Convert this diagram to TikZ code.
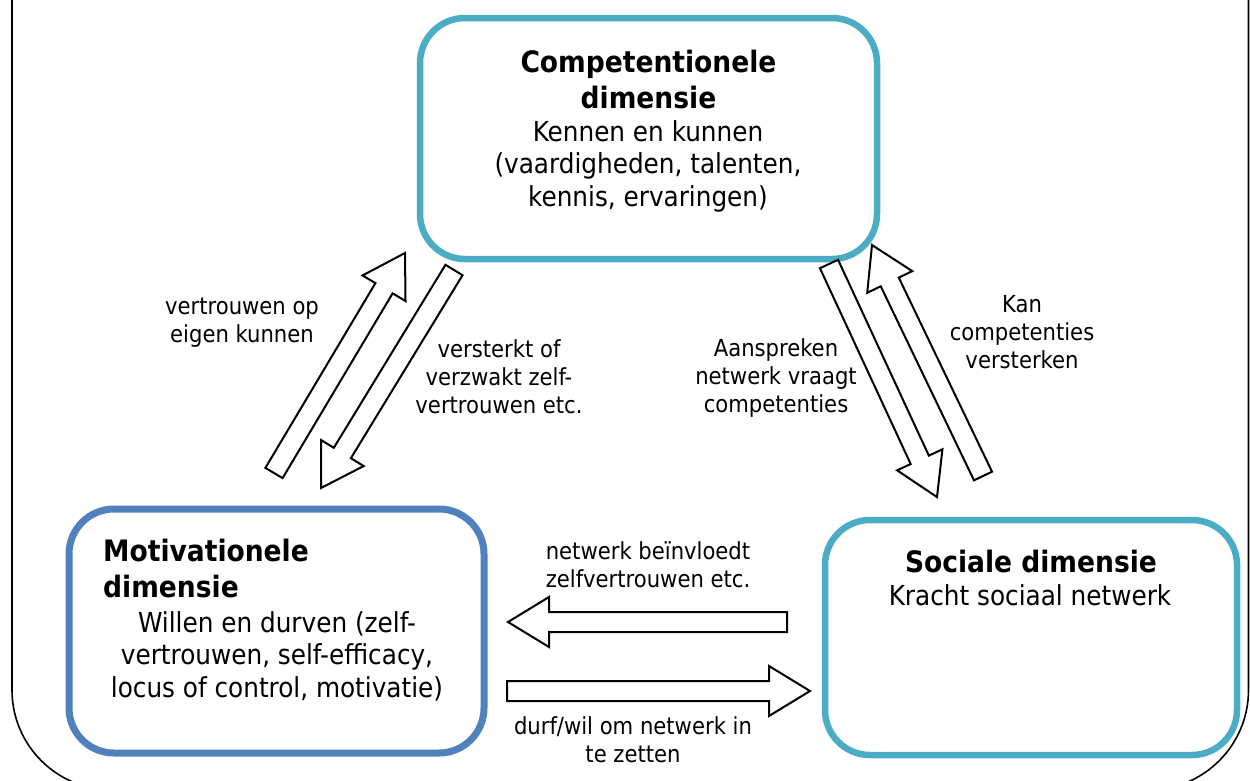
\documentclass[tikz,border=0pt]{standalone}
\usepackage{fontspec}
\setmainfont{DejaVu Sans Condensed}
\usetikzlibrary{calc}
\definecolor{tealfive}{HTML}{4BACC6}
\definecolor{blueone}{HTML}{4F81BD}
\tikzset{
  dimbox/.style={draw, line width=6.5pt, rounded corners=45pt, fill=white, inner sep=0pt},
  titletext/.style={font=\fontsize{29.5}{35.5}\selectfont\bfseries, inner sep=0pt, anchor=base},
  bodytext/.style={font=\fontsize{27.5}{32.5}\selectfont, inner sep=0pt, anchor=base},
  lbl/.style={font=\fontsize{23.5}{28}\selectfont, inner sep=0pt, anchor=base},
  barrow/.style={draw=black, line width=2pt, fill=white, line join=miter},
  frameline/.style={draw=black, line width=1.6pt, rounded corners=100pt},
}
% centred block of lines whose baseline is the baseline of its last line
\newcommand\txtblock[2]{\parbox[b]{#1}{\centering #2}}
\newcommand\txtleft[2]{\parbox[b]{#1}{\raggedright #2}}
\newcommand\blockarrow[2]{%
  \coordinate (hb) at ($(#2)!41pt!(#1)$);
  \draw[barrow] ($(#1)!10pt!90:(#2)$) -- ($(hb)!10pt!90:(#2)$) -- ($(hb)!25pt!90:(#2)$) -- (#2)
    -- ($(hb)!25pt!-90:(#2)$) -- ($(hb)!10pt!-90:(#2)$) -- ($(#1)!10pt!-90:(#2)$) -- cycle;}
\begin{document}
\begin{tikzpicture}[x=1pt,y=-1pt]
\useasboundingbox (0,0) rectangle (1250,780);
\clip (0,0) rectangle (1250,780);
\draw[frameline] (12,-30) -- (12,790) -- (1248.5,790) -- (1248.5,-30);

% boxes
\node[dimbox, draw=tealfive, minimum width=457pt, minimum height=241pt] (comp) at (648.5,138.5) {};
\node[dimbox, draw=blueone, line width=7pt, minimum width=415pt, minimum height=244pt] (motiv) at (276.5,631) {};
\node[dimbox, draw=tealfive, minimum width=412pt, minimum height=235pt] (soc) at (1031,637.5) {};

% box texts
\node[titletext] (compT) at (648.5,108) {\txtblock{440pt}{Competentionele\\dimensie}};
\node[bodytext] (compB1) at (648,141) {Kennen en kunnen};
\node[bodytext] (compB2) at (648,173.5) {(vaardigheden, talenten,};
\node[bodytext] (compB3) at (648,206) {kennis, ervaringen)};
\node[titletext, anchor=base west] (motivT) at (103,597) {\txtleft{360pt}{Motivationele\\dimensie}};
\node[bodytext] (motivB1) at (277,632) {Willen en durven (zelf-};
\node[bodytext] (motivB2) at (277,664.5) {vertrouwen, self-efficacy,};
\node[bodytext] (motivB3) at (277,697) {locus of control, motivatie)};
\node[titletext] (socT) at (1031,572) {Sociale dimensie};
\node[bodytext] (socB) at (1030,605) {Kracht sociaal netwerk};

% arrow end points
\coordinate (aT) at (274,473);  \coordinate (aH) at (405,253);
\coordinate (bT) at (454,270);  \coordinate (bH) at (321,488);
\coordinate (cT) at (829,264);  \coordinate (cH) at (937,497);
\coordinate (dT) at (983,476);  \coordinate (dH) at (872,245);
\coordinate (eT) at (787,622);  \coordinate (eH) at (508,622);
\coordinate (fT) at (507,691);  \coordinate (fH) at (810,691);
\blockarrow{aT}{aH}
\blockarrow{bT}{bH}
\blockarrow{cT}{cH}
\blockarrow{dT}{dH}
\blockarrow{eT}{eH}
\blockarrow{fT}{fH}

% labels
\node[lbl] (la) at (242,342) {\txtblock{200pt}{vertrouwen op\\eigen kunnen}};
\node[lbl] (lb) at (499,413) {\txtblock{200pt}{versterkt of\\verzwakt zelf-\\vertrouwen etc.}};
\node[lbl] (lc) at (776,412) {\txtblock{200pt}{Aanspreken\\netwerk vraagt\\competenties}};
\node[lbl] (ld) at (1022,368) {\txtblock{200pt}{Kan\\competenties\\versterken}};
\node[lbl] (le) at (648,587) {\txtblock{260pt}{netwerk beïnvloedt\\zelfvertrouwen etc.}};
\node[lbl] (lf) at (633,762) {\txtblock{300pt}{durf/wil om netwerk in\\te zetten}};
\end{tikzpicture}
\end{document}
